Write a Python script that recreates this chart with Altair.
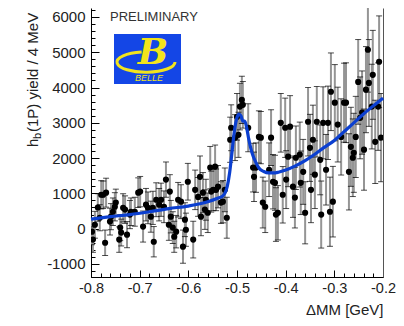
import altair as alt
import pandas as pd

# ---- data ----
bin_x = [-0.798, -0.796, -0.792, -0.786, -0.782, -0.779, -0.775, -0.771, -0.769, -0.761, -0.759, -0.755,
         -0.751, -0.749, -0.742, -0.740, -0.738, -0.734, -0.730, -0.726, -0.720, -0.718, -0.710, -0.703,
         -0.699, -0.693, -0.687, -0.683, -0.677, -0.673, -0.671, -0.666, -0.660, -0.656, -0.650, -0.646,
         -0.640, -0.638, -0.636, -0.632, -0.629, -0.625, -0.621, -0.615, -0.611, -0.607, -0.605, -0.601,
         -0.590, -0.586, -0.580, -0.576, -0.574, -0.570, -0.566, -0.564, -0.560, -0.555, -0.553, -0.549,
         -0.545, -0.543, -0.539, -0.533, -0.529, -0.525, -0.521, -0.514, -0.512, -0.504, -0.500,
         -0.494, -0.497, -0.490, -0.488, -0.477, -0.467, -0.465, -0.461, -0.455, -0.451, -0.447, -0.442,
         -0.434, -0.430, -0.426, -0.422, -0.420, -0.416, -0.410, -0.406, -0.401, -0.399, -0.395,
         -0.391, -0.385, -0.381, -0.379, -0.371, -0.369, -0.364, -0.360, -0.354, -0.350, -0.348, -0.344,
         -0.340, -0.336, -0.329, -0.327, -0.323, -0.317, -0.313, -0.309, -0.307, -0.303, -0.299, -0.293,
         -0.286, -0.280, -0.276, -0.270, -0.266, -0.262, -0.260, -0.256, -0.251, -0.247, -0.243, -0.239,
         -0.235, -0.231, -0.229, -0.223, -0.221, -0.216, -0.210, -0.208, -0.204]
yield_val = [-85, -310, 110, 600, 310, 960, 960, -400, 1020, 200, 340, 480,
             620, 740, -310, 30, -110, 590, 540, -170, 400, 480, 480, 1020,
             1050, 60, 680, 590, 340, 590, -370, 820, 680, 820, 620, 1390,
             110, 1050, 340, 30, -230, -85, 820, 765, -510, 255, -30, 1330,
             -310, 1100, 900, 1470, 340, 1020, 540, 820, 450, 1730, 1050, 1100,
             1760, 1100, 1190, 740, 765, 1100, 310, 2520, 2860, 2580, 3170,
             3460, 2660, 3650, 3510, 2860, 1730, 1470, 1730, 2600, 2580, 740, 620,
             1670, 2580, 1330, 1300, 400, 450, 3000, 960, 2860, 1390, 2040,
             2890, 1190, 880, 2010, 2100, 1300, 1610, 450, 3030, 2290, 1100, 2520,
             1530, 3030, 1950, 400, 3000, 1670, 3000, 480, 3880, 765, 3570, 2950,
             2600, 3570, 3570, 1610, 2320, 2010, 2150, 2600, 4160, 3140, 3290, 2240,
             3940, 5070, 4130, 3460, 4360, 2460, 3460, 4730, 2580]
yield_err = [370, 360, 380, 390, 370, 400, 390, 360, 410, 380, 370, 390,
             400, 380, 360, 370, 380, 400, 390, 370, 400, 390, 410, 420,
             430, 440, 460, 450, 440, 470, 430, 480, 460, 470, 450, 500,
             440, 480, 460, 450, 440, 460, 490, 480, 470, 480, 470, 520,
             520, 560, 550, 590, 540, 570, 560, 580, 560, 600, 580, 590,
             610, 590, 600, 590, 600, 620, 580, 640, 650, 650, 660,
             660, 640, 670, 660, 680, 690, 700, 700, 740, 740, 720, 730,
             760, 790, 770, 780, 760, 770, 830, 800, 840, 820, 850,
             880, 870, 860, 900, 920, 900, 920, 880, 970, 950, 930, 980,
             960, 1000, 990, 950, 1020, 1000, 1040, 980, 1100, 1000, 1080, 1060,
             1080, 1120, 1130, 1080, 1120, 1100, 1120, 1150, 1200, 1160, 1180, 1150,
             1220, 1200, 1230, 1200, 1260, 1180, 1240, 1300, 1250]

fit_x = [-0.800, -0.760, -0.720, -0.680, -0.640, -0.600, -0.560, -0.540, -0.530, -0.525, -0.520,
         -0.515, -0.510, -0.505, -0.500, -0.496, -0.492, -0.488, -0.484, -0.480, -0.476, -0.472,
         -0.468, -0.462, -0.455, -0.445, -0.435, -0.425, -0.415, -0.400, -0.380, -0.360, -0.340,
         -0.320, -0.300, -0.280, -0.260, -0.240, -0.220, -0.200]
fit_y = [270, 340, 400, 480, 570, 640, 760, 860, 920, 1000, 1200,
         1600, 2200, 2800, 3150, 3250, 3200, 3050, 3050, 2850, 2550, 2300,
         2100, 1900, 1720, 1620, 1580, 1580, 1600, 1660, 1780, 1930, 2110,
         2310, 2500, 2750, 3000, 3250, 3480, 3700]

x_major = [-0.8, -0.7, -0.6, -0.5, -0.4, -0.3, -0.2]
x_minor = [round(-0.8 + 0.02 * i, 2) for i in range(31)]
y_major = [-1000, 0, 1000, 2000, 3000, 4000, 5000, 6000]
y_minor = [-1200 + 200 * i for i in range(38)]

W, H = 292, 269
FONT = "Liberation Sans"

df = pd.DataFrame({"x": bin_x, "y": yield_val, "err": yield_err})
df["lo"] = df["y"] - df["err"]
df["hi"] = df["y"] + df["err"]
fit = pd.DataFrame({"x": fit_x, "y": fit_y})
one = pd.DataFrame({"a": [0]})

xs = alt.Scale(domain=[-0.8, -0.2], nice=False, zero=False)
ys = alt.Scale(domain=[-1370, 6254], nice=False, zero=False)

base = alt.Chart(df)

bars = base.mark_rule(color="#959595", strokeWidth=2, clip=True).encode(
    x=alt.X("x:Q", scale=xs, axis=alt.Axis(
        values=x_major, labelExpr="'-0.' + round(-datum.value * 10)",
        labelFontSize=14.5, labelFont=FONT, labelColor="#222",
        ticks=False, domainColor="black", labelPadding=4, grid=False, labelFlush=False,
        title="ΔMM [GeV]", titleFont=FONT, titleFontSize=15, titleFontWeight="normal",
        titleColor="#222", titleAnchor="end", titleAlign="right", titleX=W, titleY=25,
        titleBaseline="top")),
    y=alt.Y("lo:Q", scale=ys, axis=alt.Axis(
        values=y_major, labelExpr="'' + datum.value", labelFontSize=15, labelFont=FONT,
        labelColor="#222", ticks=False,
        domainColor="black", labelPadding=6, grid=False, title=None, labelFlush=False)),
    y2="hi:Q",
)

caps = base.transform_fold(["lo", "hi"]).mark_tick(
    orient="horizontal", size=6, thickness=1, color="black", clip=True).encode(
    x=alt.X("x:Q", scale=xs, axis=alt.Axis(
        orient="top", offset=-H, values=x_major, tickSize=7, tickColor="black",
        labels=False, domain=False, grid=False, title=None)),
    y=alt.Y("value:Q", scale=ys, axis=alt.Axis(
        orient="right", offset=-W, values=y_major, tickSize=8, tickColor="black",
        labels=False, domain=False, grid=False, title=None)),
)

pts = base.mark_circle(size=38, color="black", opacity=1, clip=True).encode(
    x=alt.X("x:Q", scale=xs, axis=alt.Axis(
        orient="top", offset=-H, values=x_minor, tickSize=4, tickColor="black",
        labels=False, domain=False, grid=False, title=None)),
    y=alt.Y("y:Q", scale=ys, axis=alt.Axis(
        orient="right", offset=-W, values=y_minor, tickSize=4, tickColor="black",
        labels=False, domain=False, grid=False, title=None)),
)

line = alt.Chart(fit).mark_line(color="#0b3fd0", strokeWidth=3.2, interpolate="monotone").encode(
    x=alt.X("x:Q", scale=xs, axis=None),
    y=alt.Y("y:Q", scale=ys, axis=alt.Axis(
        orient="right", ticks=False, labels=False, domain=True, domainColor="#555",
        grid=False, title=None)),
)

t = alt.Chart(one)
ytitle_h = t.mark_text(text="h", angle=270, align="left", baseline="middle", font=FONT,
                       fontSize=15, color="#222").encode(x=alt.value(-58), y=alt.value(139))
ytitle_b = t.mark_text(text="b", angle=270, align="left", baseline="middle", font=FONT,
                       fontSize=11, color="#222").encode(x=alt.value(-53), y=alt.value(131))
ytitle_r = t.mark_text(text="(1P)  yield / 4 MeV", angle=270, align="left", baseline="middle",
                       font=FONT, fontSize=15, color="#222").encode(x=alt.value(-58), y=alt.value(124))

prelim = t.mark_text(text="PRELIMINARY", align="left", baseline="alphabetic", font=FONT,
                     fontSize=13, color="#333").encode(x=alt.value(19), y=alt.value(13))

logo_bg = t.mark_rect(color="#1446e6").encode(
    x=alt.value(23), x2=alt.value(90), y=alt.value(26), y2=alt.value(76))
logo_swoosh = t.mark_point(
    shape="M -0.15 -0.345 A 1 0.35 0 1 0 1 0", filled=False, stroke="#f2e41c",
    strokeWidth=3, size=3364, opacity=1).encode(x=alt.value(55), y=alt.value(54))
logo_b = t.mark_text(text="B", font="DejaVu Serif", fontStyle="italic", fontWeight="bold",
                     fontSize=36, color="#f2e41c", align="center", baseline="middle").encode(
    x=alt.value(62), y=alt.value(45))
logo_txt = t.mark_text(text="BELLE", font=FONT, fontStyle="italic", fontSize=9,
                       color="#f2e41c", align="center", baseline="middle").encode(
    x=alt.value(58), y=alt.value(70))

chart = alt.layer(
    bars, caps, pts, line,
    ytitle_h, ytitle_b, ytitle_r, prelim, logo_bg, logo_swoosh, logo_b, logo_txt,
).resolve_axis(x="independent", y="independent").properties(
    width=W, height=H,
    autosize=alt.AutoSizeParams(type="none"),
    padding={"left": 83, "top": 0, "right": 13, "bottom": 41},
    background="white",
).configure_view(stroke=None)

chart.save("out.html", embed_options={"renderer": "svg", "actions": False})
